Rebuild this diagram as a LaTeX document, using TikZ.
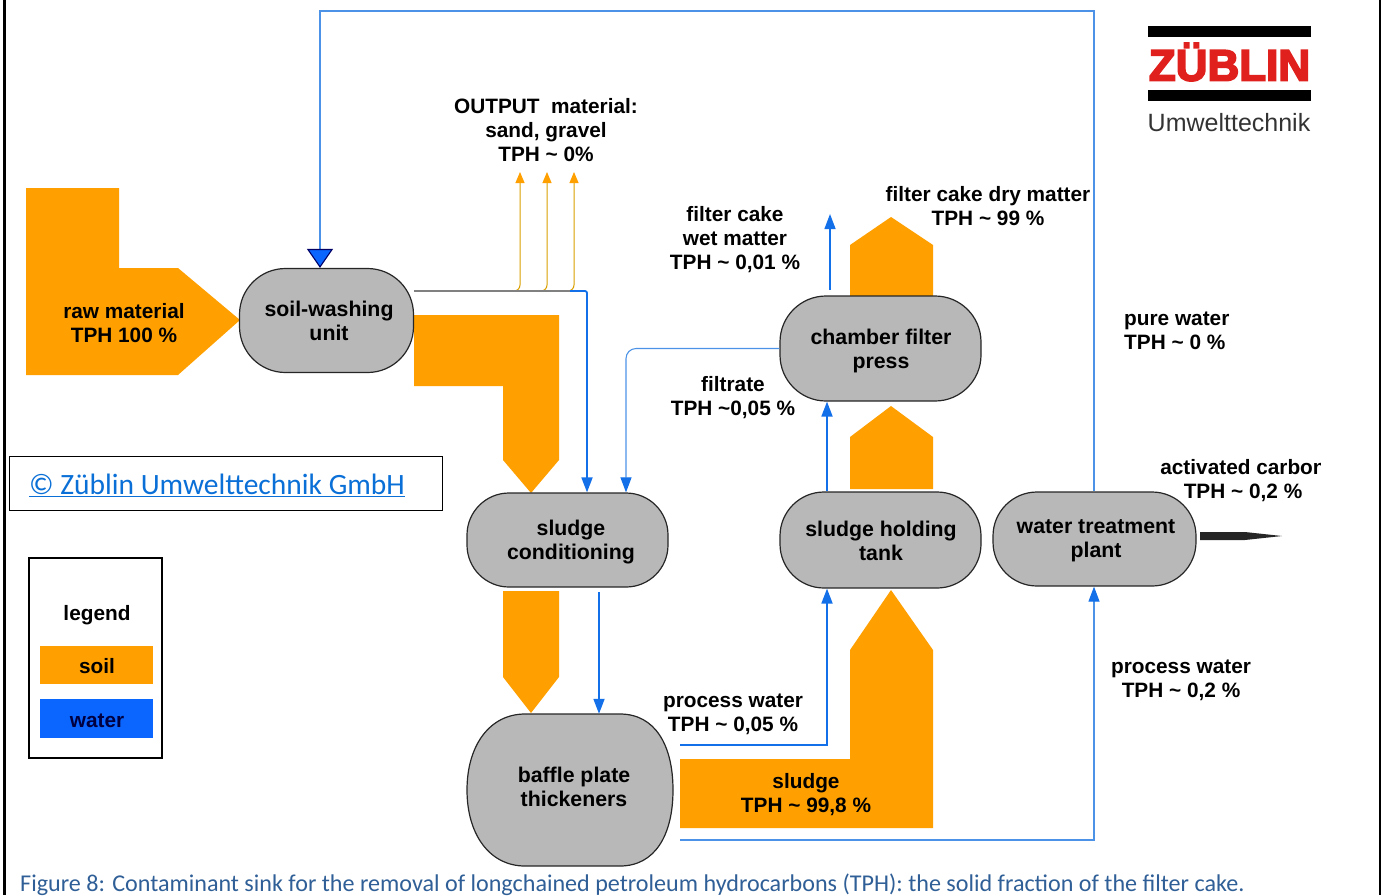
\documentclass[tikz,border=0pt]{standalone}
\usepackage{fontspec}
\setmainfont{Liberation Sans}
\newfontfamily\captionfont{Carlito}
\newfontfamily\logofont[FakeBold=4]{Liberation Sans Bold}
\usepackage{tikz}
\usetikzlibrary{arrows.meta}

\definecolor{soilorange}{HTML}{FFA000}
\definecolor{waterblue}{HTML}{1470E8}
\definecolor{keyblue}{HTML}{0A66FF}
\definecolor{thinblue}{HTML}{4C92E6}
\definecolor{unitgrey}{HTML}{B8B8B8}
\definecolor{linkblue}{HTML}{0A6FD6}
\definecolor{capblue}{HTML}{2F5F96}
\definecolor{logored}{HTML}{E0201C}

\tikzset{
    unit/.style={draw=black!85, line width=1.2pt, fill=unitgrey},
    unittext/.style={align=center, inner sep=0pt, font=\fontsize{21.3}{24}\selectfont\bfseries},
    lbl/.style={align=center, inner sep=0pt, font=\fontsize{20.8}{24}\selectfont\bfseries},
    soil/.style={fill=soilorange, draw=none},
    water/.style={draw=waterblue, line width=1.8pt, -{Triangle[length=15pt,width=11pt]}},
    thinwater/.style={draw=thinblue, line width=1.1pt, -{Triangle[length=15pt,width=11pt,color=waterblue]}},
    fine/.style={draw=soilorange!70!yellow!85!black, line width=1pt, rounded corners=6pt, -{Triangle[length=11pt,width=9pt,color=soilorange]}}
}

\begin{document}
\begin{tikzpicture}[x=1pt,y=-1pt]
    \useasboundingbox (0,0) rectangle (1386,895);
    % frame
    \draw [line width=2.5pt] (4.3,0) -- (4.3,895);
    \draw [line width=2.5pt] (1380,0) -- (1380,895);

    % soil flows
    \fill [soil] (26,188) -- (119,188) -- (119,268) -- (178,268) -- (240,320) -- (178,375) -- (26,375) -- cycle;
    \fill [soil] (414,315) -- (559,315) -- (559,460) -- (531,493) -- (503,460) -- (503,386) -- (414,386) -- cycle;
    \fill [soil] (503,591) -- (559,591) -- (559,677) -- (531,713) -- (503,677) -- cycle;
    \fill [soil] (850,296) -- (933,296) -- (933,245) -- (891,217) -- (850,245) -- cycle;
    \fill [soil] (850,489) -- (933,489) -- (933,437) -- (891,406) -- (850,437) -- cycle;
    \fill [soil] (680,759) -- (850,759) -- (850,650) -- (891,590) -- (933,650) -- (933,828) -- (680,828) -- cycle;

    % units
    \node [unit, minimum width=174pt, minimum height=104pt, rounded corners=46pt] (washing) at (326.5,320.5) {} node [unittext] (washingtext) at (329,321) {soil-washing\\unit};
    \node [unit, minimum width=201pt, minimum height=94pt, rounded corners=42pt] (conditioning) at (567.5,540) {} node [unittext] (conditioningtext) at (571,542.5) {sludge\\conditioning};
    \draw [unit] (467,790) .. controls (467,745) and (490,714) .. (525,714) -- (620,714) .. controls (655,714) and (673,745) .. (673,790) .. controls (673,835) and (655,866) .. (620,866) -- (525,866) .. controls (490,866) and (467,835) .. (467,790) -- cycle;
    \node [minimum width=206pt, minimum height=152pt, inner sep=0pt] (baffle) at (570,790) {} node [unittext] (baffletext) at (574,787) {baffle plate\\thickeners};
    \node [unit, minimum width=201pt, minimum height=105pt, rounded corners=46pt] (press) at (880.5,348.5) {} node [unittext] (presstext) at (881,351) {chamber filter\\press};
    \node [unit, minimum width=201pt, minimum height=96pt, rounded corners=44pt] (holding) at (880.5,540) {} node [unittext] (holdingtext) at (881,541) {sludge holding\\tank};
    \node [unit, minimum width=203pt, minimum height=94pt, rounded corners=44pt] (treatment) at (1094.5,539) {} node [unittext] (treatmenttext) at (1096,541) {water treatment\\plant};

    % water lines
    \coordinate (washout) at (414,291);
    \coordinate (o1) at (520,172);
    \coordinate (o2) at (547,172);
    \coordinate (o3) at (574,172);
    \draw [fine] (washout) -| (o1);
    \draw [fine] (washout) -| (o2);
    \draw [fine] (washout) -| (o3);
    \draw [draw=gray, line width=1.2pt] (washout) -- (572,291);
    \draw [water, rounded corners=2pt] (570,291) -| (conditioning.north -| 587,0);
    \draw [thinwater, rounded corners=10pt] (press.west) -| (conditioning.north -| 626,0);
    \draw [water] (599,592) -- (baffle.north -| 599,0);
    \draw [water] (680,745) -| (holding.south -| 827,0);
    \draw [water] (holding.north -| 827,0) -- (press.south -| 827,0);
    \coordinate (wetmatter) at (830,214);
    \draw [water, line width=1.4pt] (830,290) -- (wetmatter);
    \draw [thinwater] (680,840) -| (treatment.south -| 1094,0);
    \draw [draw=thinblue, line width=1.1pt, -{Triangle[length=19pt,width=26pt,fill=keyblue,color=black!60!blue]}] (treatment.north -| 1094,0) |- (320,11) -- (washing.north -| 320,0);
    \fill [black!85] (1200,532) -- (1245,532) -- (1282,536) -- (1245,540) -- (1200,540) -- cycle;

    % labels
    \node [lbl] (raw) at (124,323) {raw material\\TPH 100 \%};
    \node [lbl] (output) at (546,130) {OUTPUT\ \ material:\\sand, gravel\\TPH \char`~\ 0\%};
    \node [lbl] (wet) at (735,240) {filter cake\\wet matter\\TPH \char`~\ 0,01 \%};
    \node [lbl] (dry) at (988,206.5) {filter cake dry matter\\TPH \char`~\ 99 \%};
    \node [lbl, align=left, anchor=west] (pure) at (1124,331) {pure water\\TPH \char`~\ 0 \%};
    \node [lbl] (filtrate) at (733,398) {filtrate\\TPH \char`~0,05 \%};
    \begin{scope}
        \clip (1100,440) rectangle (1320,520);
        \node [lbl] (carbon) at (1243,481) {activated carbon\\TPH \char`~\ 0,2 \%};
    \end{scope}
    \node [lbl] (procone) at (733,714.5) {process water\\TPH \char`~\ 0,05 \%};
    \node [lbl] (sludge) at (806,795) {sludge\\TPH \char`~\ 99,8 \%};
    \node [lbl] (proctwo) at (1181,680) {process water\\TPH \char`~\ 0,2 \%};

    % copyright box
    \draw [line width=1pt] (9,456) rectangle (442,510);
    \node [inner sep=0pt, text=linkblue, font=\captionfont\fontsize{29.5}{32}\selectfont] (copyright) at (217,485.5) {\underline{© Züblin Umwelttechnik GmbH}};

    % legend
    \draw [line width=1.2pt] (29,558) rectangle (162,758);
    \node [lbl] (legend) at (97,615) {legend};
    \node [fill=soilorange, minimum width=113pt, minimum height=38pt, inner sep=0pt] (soilkey) at (96.5,665) {} node [lbl] (soillabel) at (97,666) {soil};
    \node [fill=keyblue, minimum width=113pt, minimum height=39pt, inner sep=0pt] (waterkey) at (96.5,718.5) {} node [lbl, text=black!75!blue] (waterlabel) at (97,721) {water};

    % logo
    \fill [black] (1148,26) rectangle (1311,37);
    \fill [black] (1148,90) rectangle (1311,101);
    \node [inner sep=0pt, text=logored, font=\logofont\fontsize{44}{44}\selectfont] (logo) at (1229.5,62) {ZÜBLIN};
    \node [inner sep=0pt, text=black!80, font=\fontsize{25}{28}\selectfont] (logotext) at (1229,123) {Umwelttechnik};

    % caption
    \node [anchor=base west, inner sep=0pt, text=capblue, font=\captionfont\fontsize{24.1}{26}\selectfont] (caption) at (20,891) {Figure 8: Contaminant sink for the removal of longchained petroleum hydrocarbons (TPH): the solid fraction of the filter cake.};
\end{tikzpicture}
\end{document}
